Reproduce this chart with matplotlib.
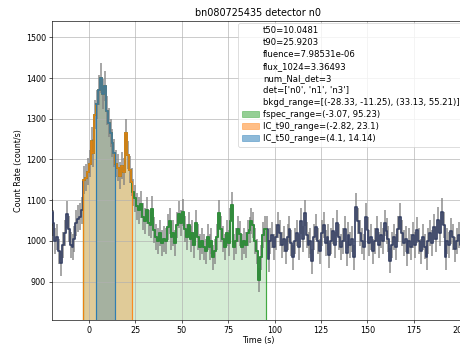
import numpy as np
import matplotlib
matplotlib.use("Agg")
import matplotlib.pyplot as plt
from matplotlib.patches import Patch
from matplotlib.lines import Line2D

# Light curve, 1.024 s bins starting at -20.48 s (count/s)
bin_width = 1.024
t_start = -20.48

rate_pre = [1070, 1045, 1000, 1010, 975, 945, 990, 1020, 1065, 1030,
            990, 985, 1005, 1045, 1055, 1060, 1075]
rate_burst = [1150, 1155, 1170, 1190, 1245, 1215, 1310, 1335, 1370, 1400,
              1360, 1380, 1320, 1290, 1265, 1240, 1215, 1190, 1180, 1160,
              1185, 1170, 1265, 1210, 1175, 1145]
rate_tail = [1120, 1105, 1085, 1075, 1090, 1060, 1050, 1075, 1045, 1040,
             1078, 1027, 1010, 1000, 1020, 995, 1005, 1000, 1035, 1050,
             1010, 1020, 995, 1040, 1065, 1045, 1070, 1030, 1010, 1040,
             1005, 1020, 990, 1043, 1010, 985, 1000, 985, 975, 1010,
             985, 1000, 960, 975, 1010, 1068, 1030, 1005, 985, 1020,
             995, 1050, 1088, 985, 1000, 1030, 1018, 985, 1000, 990,
             1020, 1027, 1050, 1040, 1000, 975, 905, 960, 1015, 1030]
rate_post = [1030, 955, 1000, 1015, 985, 1010, 1040, 1020, 990, 1005,
             975, 1010, 1030, 995, 960, 1000, 1020, 985, 1050, 1005,
             1068, 1015, 990, 1000, 950, 1010, 1035, 1000, 975, 1020,
             1040, 995, 1010, 965, 1000, 1025, 990, 1043, 1010, 985,
             1000, 1030, 970, 1015, 990, 1005, 960, 1084, 1050, 1020,
             1000, 985, 1060, 1027, 995, 1010, 975, 1000, 1030, 990,
             1015, 1000, 1043, 1025, 1005, 952, 990, 1010, 985, 1030,
             1060, 1020, 995, 1005, 970, 1000, 985, 1015, 990, 1027,
             1000, 975, 1010, 986, 960, 1000, 1020, 995, 1035, 1005,
             1051, 1020, 1072, 1040, 960, 1000, 990, 1025, 1010, 980,
             1000, 1015, 990]

rate = np.array(rate_pre + rate_burst + rate_tail + rate_post, dtype=float)
n_bins = len(rate)
left_edges = t_start + bin_width * np.arange(n_bins)
right_edges = left_edges + bin_width
centers = left_edges + 0.5 * bin_width
# Poisson uncertainty on the binned rate
rate_err = np.sqrt(rate * bin_width) / bin_width

# Burst summary quantities
t50 = 10.0481
t90 = 25.9203
fluence = 7.98531e-06
flux_1024 = 3.36493
num_nai_det = 3
detectors = ['n0', 'n1', 'n3']
bkgd_range = [(-28.33, -11.25), (33.13, 55.21)]
fspec_range = (-3.07, 95.23)
t90_range = (-2.82, 23.1)
t50_range = (4.1, 14.14)

y_low, y_high = 806, 1540
line_color = '#394366'
c_green, c_orange, c_blue = '#2ca02c', '#ff7f0e', '#1f77b4'

fig = plt.figure(figsize=(8, 6), dpi=57.5)
ax = fig.add_axes([0.112, 0.0725, 0.899, 0.8667])

ax.errorbar(centers, rate, yerr=rate_err, fmt='none', ecolor='gray',
            elinewidth=2, alpha=0.85, zorder=2)
ax.plot(centers, rate, drawstyle='steps-mid', color=line_color, lw=2.2,
        zorder=3)


def range_steps(lo, hi):
    sel = (left_edges < hi) & (right_edges > lo)
    xs = np.column_stack([np.maximum(left_edges[sel], lo),
                          np.minimum(right_edges[sel], hi)]).ravel()
    ys = np.repeat(rate[sel], 2)
    return xs, ys


def rate_at(x):
    i = int(np.clip(np.searchsorted(right_edges, x), 0, n_bins - 1))
    return rate[i]


for (lo, hi), col, fa in [(fspec_range, c_green, 0.2),
                          (t90_range, c_orange, 0.3),
                          (t50_range, c_blue, 0.3)]:
    xs, ys = range_steps(lo, hi)
    ax.fill_between(xs, 0, ys, color=col, alpha=fa, lw=0, zorder=1)
    ax.plot(xs, ys, color=col, lw=2.2, alpha=0.85, zorder=4)
    ax.vlines([lo, hi], 0, [rate_at(lo), rate_at(hi)], color=col, lw=1.5,
              alpha=0.9, zorder=4)

ax.set_xlim(-20, 202.5)
ax.set_ylim(y_low, y_high)
ax.grid(True)
ax.set_xlabel('Time (s)', labelpad=2)
ax.set_ylabel('Count Rate (count/s)')
ax.set_title('bn080725435 detector n0')

blank = Line2D([], [], linestyle='none')
handles = [blank] * 7 + [Patch(color=c_green, alpha=0.5),
                         Patch(color=c_orange, alpha=0.5),
                         Patch(color=c_blue, alpha=0.5)]
labels = [f't50={t50}', f't90={t90}', f'fluence={fluence}',
          f'flux_1024={flux_1024}', f'num_NaI_det={num_nai_det}',
          f'det={detectors}', f'bkgd_range={bkgd_range}',
          f'fspec_range={fspec_range}', f'IC_t90_range={t90_range}',
          f'IC_t50_range={t50_range}']
ax.legend(handles, labels, loc='upper right', borderaxespad=0.25,
          labelspacing=0.35, fontsize=10.6, handletextpad=0.5)

fig.savefig('out.png', dpi=57.5)
